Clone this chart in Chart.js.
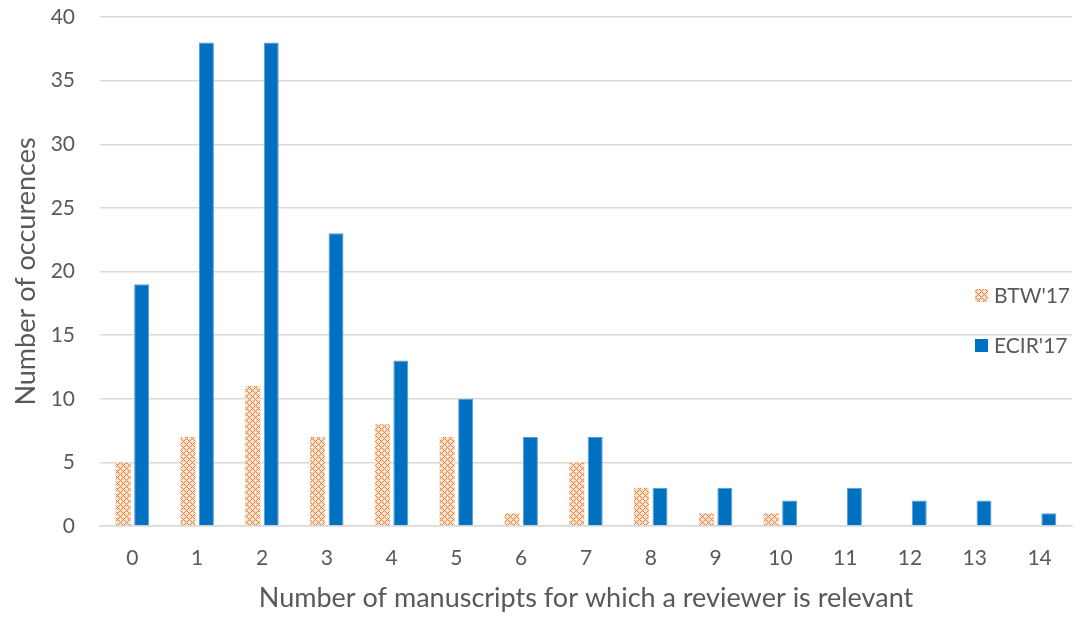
<!DOCTYPE html>
<html>
<head>
<meta charset="utf-8">
<script src="https://cdn.jsdelivr.net/npm/chart.js@4"></script>
<style>
  html, body { margin: 0; padding: 0; background: #fff; }
  #wrap { width: 1081px; height: 618px; position: relative; }
</style>
</head>
<body>
<div id="wrap"><canvas id="chart"></canvas></div>
<script>
const categories = ['0', '1', '2', '3', '4', '5', '6', '7', '8', '9', '10', '11', '12', '13', '14'];
const btw17 = [5, 7, 11, 7, 8, 7, 1, 5, 3, 1, 1, 0, 0, 0, 0];
const ecir17 = [19, 38, 38, 23, 13, 10, 7, 7, 3, 3, 2, 3, 2, 2, 1];
const yTicks = [0, 5, 10, 15, 20, 25, 30, 35, 40];

const textColor = '#595959';
const fontFamily = 'Lato, "Open Sans", sans-serif';

// kleines Kreuzschraffur-Muster für BTW
function makeHatch() {
    const c = document.createElement('canvas');
    c.width = 6; c.height = 6;
    const g = c.getContext('2d');
    g.fillStyle = '#fbe3d3';
    g.fillRect(0, 0, 6, 6);
    g.fillStyle = '#ED7D31';
    const px = [[0,0],[1,1],[2,2],[4,2],[5,1],[3,3],[2,4],[1,5],[4,4],[5,5]];
    px.forEach(p => g.fillRect(p[0], p[1], 1, 1));
    return g.createPattern(c, 'repeat');
}

const ctx = document.getElementById('chart').getContext('2d');
const hatch = makeHatch();

const legendPlugin = {
    id: 'sideLegend',
    afterDraw(chart) {
        const g = chart.ctx;
        g.save();
        g.font = '21px ' + fontFamily;
        g.textBaseline = 'middle';
        g.fillStyle = hatch;
        g.fillRect(975, 289, 13, 13);
        g.fillStyle = '#0070C0';
        g.fillRect(975, 339, 13, 13);
        g.fillStyle = textColor;
        g.fillText("BTW'17", 994, 296);
        g.fillText("ECIR'17", 994, 346);
        g.restore();
    }
};

new Chart(ctx, {
    type: 'bar',
    data: {
        labels: categories,
        datasets: [
            {
                label: "BTW'17",
                data: btw17,
                backgroundColor: hatch,
                categoryPercentage: 0.57,
                barPercentage: 0.81
            },
            {
                label: "ECIR'17",
                data: ecir17,
                backgroundColor: '#0070C0',
                borderColor: '#5B9BD5',
                borderWidth: 1,
                categoryPercentage: 0.57,
                barPercentage: 0.81
            }
        ]
    },
    options: {
        responsive: true,
        maintainAspectRatio: false,
        animation: false,
        layout: { padding: { top: 17, right: 9, left: 6, bottom: 0 } },
        plugins: {
            legend: { display: false },
            tooltip: { enabled: false }
        },
        scales: {
            x: {
                grid: { display: false },
                border: { color: '#D9D9D9', width: 1.5 },
                ticks: { color: textColor, font: { family: fontFamily, size: 21 }, padding: 12 },
                title: {
                    display: true,
                    text: 'Number of manuscripts for which a reviewer is relevant',
                    color: textColor,
                    font: { family: fontFamily, size: 27 },
                    padding: { top: 16 }
                },
                afterFit(s) { s.height = 92; }
            },
            y: {
                min: 0,
                max: 40,
                afterBuildTicks(s) { s.ticks = yTicks.map(v => ({ value: v })); },
                grid: { color: '#D9D9D9', lineWidth: 1.5, drawTicks: false },
                border: { display: false },
                ticks: { color: textColor, font: { family: fontFamily, size: 21 }, padding: 25 },
                title: {
                    display: true,
                    text: 'Number of occurences',
                    color: textColor,
                    font: { family: fontFamily, size: 27 },
                    padding: { bottom: 0 }
                },
                afterFit(s) {
                    s.width = 94;
                    s.paddingTop = 0;
                    s.paddingBottom = 0;
                }
            }
        }
    },
    plugins: [legendPlugin]
});
</script>
</body>
</html>
